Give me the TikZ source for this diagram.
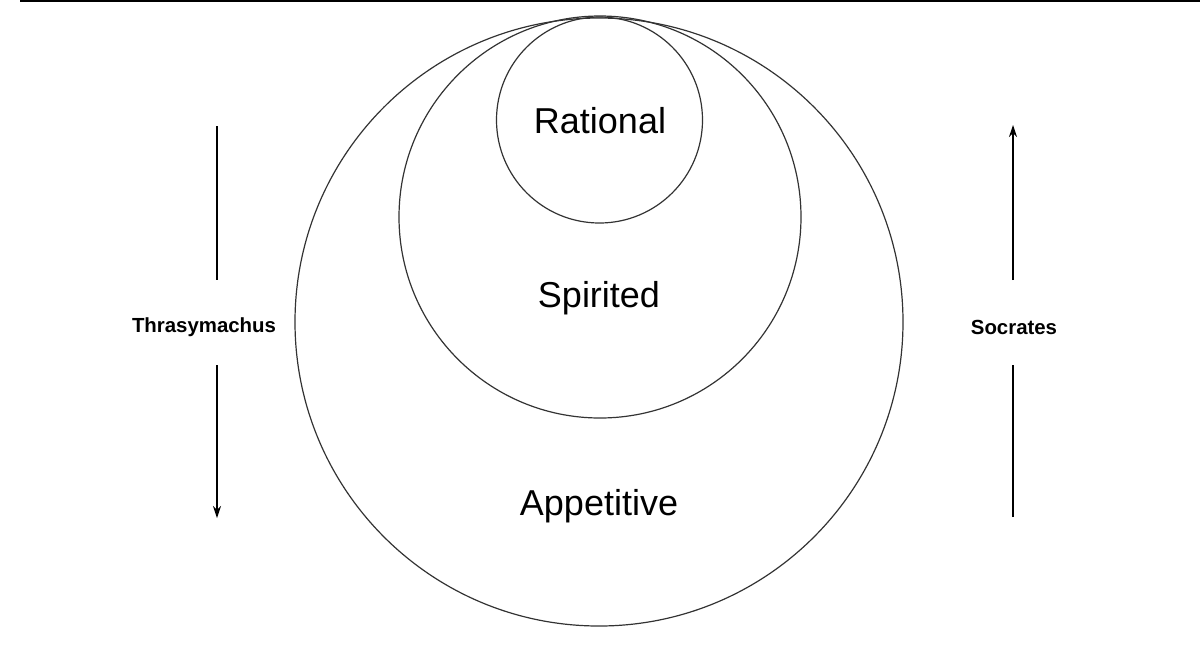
\documentclass[tikz,border=0pt]{standalone}
\usepackage{fontspec}
\setmainfont{Liberation Sans}
\usetikzlibrary{arrows.meta}
\begin{document}
\begin{tikzpicture}[x=0.5pt,y=-0.5pt,
  ring/.style={draw=black!80,line width=0.6pt},
  big/.style={font=\fontsize{18}{21}\selectfont},
  side/.style={font=\bfseries\fontsize{10.2}{12}\selectfont},
  conn/.style={line width=0.6pt,-{Stealth[length=6pt,width=4pt]}}]
\useasboundingbox (0,0) rectangle (1200,661);
\draw[line width=0.6pt] (20,1) -- (1200,1);
\draw[ring] (599,322) circle (304);
\draw[ring] (600,217) circle (201);
\draw[ring] (599.5,120) circle (103);
\node[big] (rat) at (600,121) {Rational};
\node[big] (spi) at (599,298) {Spirited};
\node[big] (app) at (599,506) {Appetitive};
\node[side] (thr) at (204,327) {Thrasymachus};
\node[side] (soc) at (1014,327) {Socrates};
\coordinate (t1) at (217,126); \coordinate (t2) at (217,280);
\coordinate (t3) at (217,365); \coordinate (t4) at (217,518);
\coordinate (s1) at (1013,517); \coordinate (s2) at (1013,365);
\coordinate (s3) at (1013,280); \coordinate (s4) at (1013,125);
\draw[line width=0.6pt] (t1) -- (t2);
\draw[conn] (t3) -- (t4);
\draw[line width=0.6pt] (s1) -- (s2);
\draw[conn] (s3) -- (s4);
\end{tikzpicture}
\end{document}
